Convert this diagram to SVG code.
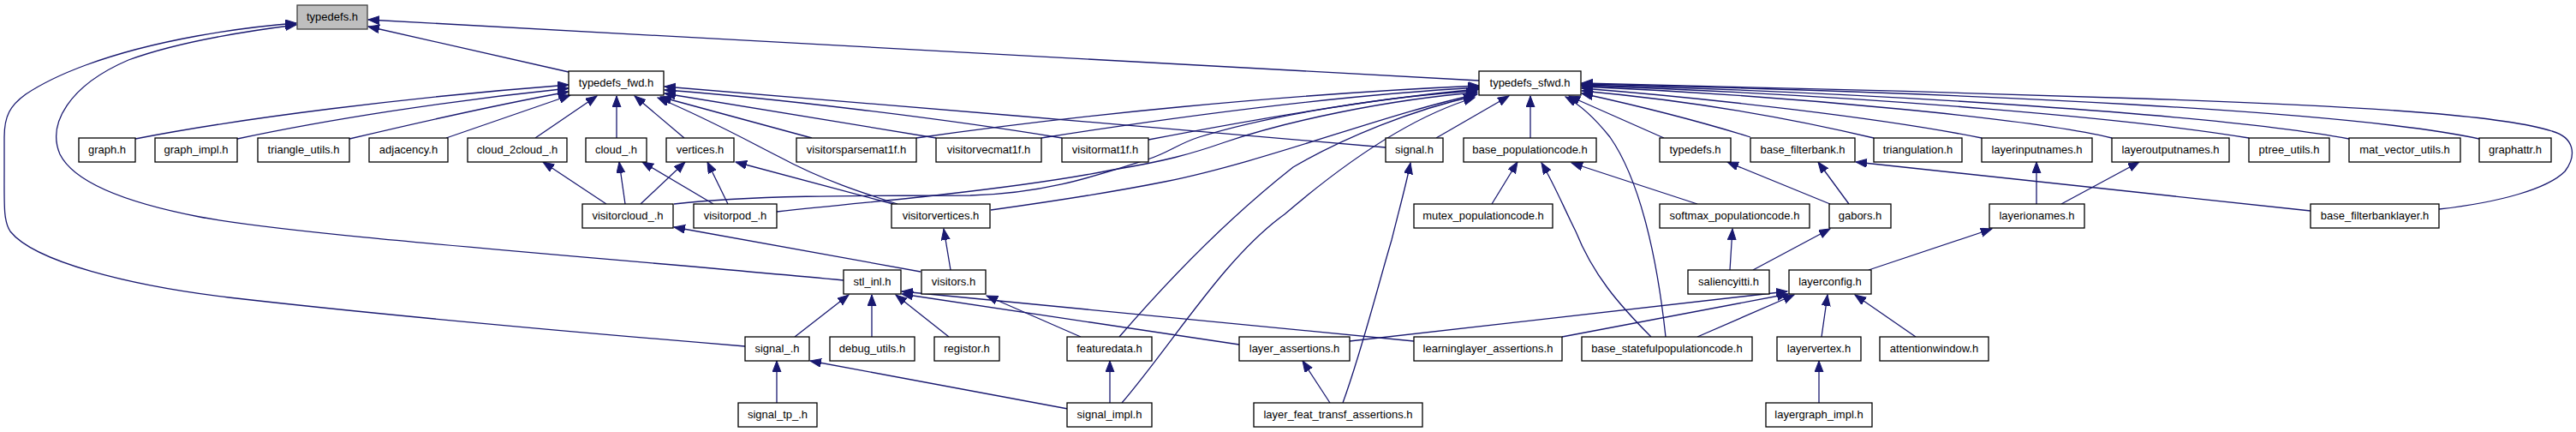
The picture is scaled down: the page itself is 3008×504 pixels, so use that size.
<svg xmlns="http://www.w3.org/2000/svg" width="3008" height="504" viewBox="0 0 3008 504">
<style>
.n rect{fill:#fff;stroke:#000;stroke-width:1.3}
.r rect{fill:#bfbfbf;stroke:#404040;stroke-width:1.3}
text{font-family:"Liberation Sans",Arial,sans-serif;font-size:13px;text-anchor:middle;fill:#000}
#edges path{fill:none;stroke:#191970;stroke-width:1.3;marker-end:url(#a)}
</style>
<defs>
<marker id="a" markerUnits="userSpaceOnUse" markerWidth="14" markerHeight="11" refX="13" refY="5" orient="auto">
<path d="M0,0 L13,5 L0,10 z" fill="#191970" stroke="#191970" stroke-width="1"/>
</marker>
</defs>
<rect width="3008" height="504" fill="#fff"/>
<g id="edges">
<path d="M664,84 L430,31"/>
<path d="M1727,94 L430,23"/>
<path d="M985,327 C700,300 350,275 233,253 C140,235 85,210 70,180 C55,145 80,100 150,70 C210,48 290,36 346,29"/>
<path d="M870,404 C700,390 450,368 267,347 C150,333 40,305 12,270 C4,258 5,240 5,200 L5,160 C5,135 12,123 30,110 C60,90 120,62 230,42 C280,33 320,29 346,27"/>
<path d="M158,162 C280,138 480,113 664,99"/>
<path d="M277,162 C380,140 520,118 664,103"/>
<path d="M408,162 C480,145 570,124 664,107"/>
<path d="M521,161 L666,111"/>
<path d="M625,161 L697,112"/>
<path d="M720,161 L720,112"/>
<path d="M799,161 L741,112"/>
<path d="M948,161 L771,113"/>
<path d="M1093,161 L776,109"/>
<path d="M1240,161 C1100,138 900,114 776,105"/>
<path d="M1618,172 C1400,152 1000,120 776,101"/>
<path d="M1048,238 C1010,226 960,210 910,183 C880,168 830,140 768,114"/>
<path d="M1043,238 L859,189"/>
<path d="M708,238 L634,189"/>
<path d="M730,238 L723,189"/>
<path d="M748,238 L800,189"/>
<path d="M833,238 L750,189"/>
<path d="M850,238 L826,189"/>
<path d="M787,238 C870,228 1000,228 1133,228 C1220,226 1280,205 1340,186 C1365,178 1375,168 1400,160 C1480,135 1620,112 1725,106"/>
<path d="M907,247 C990,238 1060,232 1100,227 C1180,218 1240,210 1300,198 C1360,188 1390,180 1430,166 C1500,142 1620,116 1725,108"/>
<path d="M1157,245 C1250,232 1320,220 1360,212 C1480,188 1620,132 1725,110"/>
<path d="M1070,161 C1250,135 1500,110 1727,100"/>
<path d="M1216,161 C1350,140 1550,112 1727,102"/>
<path d="M1341,163 C1450,142 1600,115 1727,104"/>
<path d="M1307,393 C1370,320 1440,250 1510,195 C1570,160 1650,128 1722,112"/>
<path d="M1310,470 C1370,400 1430,300 1500,250 C1570,190 1650,135 1722,114"/>
<path d="M1677,161 L1762,112"/>
<path d="M1787,161 L1787,112"/>
<path d="M1945,393 C1935,300 1915,210 1880,160 C1860,135 1845,122 1828,113"/>
<path d="M1943,161 L1832,112"/>
<path d="M2044,160 C1980,140 1920,125 1847,109"/>
<path d="M2188,161 C2100,140 1980,118 1847,106"/>
<path d="M2314,161 C2200,138 2000,115 1847,103"/>
<path d="M2466,161 C2380,140 2100,112 1847,101"/>
<path d="M2626,161 C2500,140 2200,112 1847,100"/>
<path d="M2743,162 C2600,135 2200,108 1847,99"/>
<path d="M2895,162 C2750,130 2300,108 1847,98"/>
<path d="M2848,244 C2920,236 2975,220 2995,200 C3010,180 3005,160 2980,153 C2930,137 2800,125 2500,115 C2300,108 2000,100 1847,97"/>
<path d="M1742,238 L1772,189"/>
<path d="M1928,393 C1890,355 1860,320 1840,270 C1825,240 1815,215 1800,190"/>
<path d="M1982,238 L1835,190"/>
<path d="M2020,315 L2023,267"/>
<path d="M2047,315 L2137,267"/>
<path d="M2137,238 L2017,189"/>
<path d="M2159,238 L2123,189"/>
<path d="M2698,246 L2167,189"/>
<path d="M2378,238 L2378,189"/>
<path d="M2407,238 L2498,189"/>
<path d="M2182,315 L2326,267"/>
<path d="M2127,393 L2134,344"/>
<path d="M2237,393 L2166,344"/>
<path d="M2124,470 L2124,421"/>
<path d="M1576,398 L2087,340"/>
<path d="M1824,393 L2088,343"/>
<path d="M1982,393 L2095,344"/>
<path d="M1651,398 L1053,340"/>
<path d="M1447,402 L1053,343"/>
<path d="M1018,393 L1018,344"/>
<path d="M1108,393 L1046,344"/>
<path d="M928,393 L991,344"/>
<path d="M1262,393 L1152,345"/>
<path d="M1110,315 L1102,267"/>
<path d="M1075,317 L787,265"/>
<path d="M1296,470 L1296,421"/>
<path d="M1247,477 L946,421"/>
<path d="M907,470 L907,421"/>
<path d="M1553,470 L1521,421"/>
<path d="M1568,470 C1590,410 1610,330 1625,280 C1635,240 1642,215 1647,190"/>
</g>
<g id="typedefs_h" class="r"><rect x="347" y="6" width="82" height="28"/><text x="388" y="24">typedefs.h</text></g>
<g id="typedefs_fwd_h" class="n"><rect x="664" y="83" width="111" height="28"/><text x="719.5" y="101">typedefs_fwd.h</text></g>
<g id="typedefs_sfwd_h" class="n"><rect x="1727" y="83" width="119" height="28"/><text x="1786.5" y="101">typedefs_sfwd.h</text></g>
<g id="graph_h" class="n"><rect x="92" y="161" width="66" height="28"/><text x="125" y="179">graph.h</text></g>
<g id="graph_impl_h" class="n"><rect x="181" y="161" width="96" height="28"/><text x="229" y="179">graph_impl.h</text></g>
<g id="triangle_utils_h" class="n"><rect x="301" y="161" width="107" height="28"/><text x="354.5" y="179">triangle_utils.h</text></g>
<g id="adjacency_h" class="n"><rect x="431" y="161" width="92" height="28"/><text x="477" y="179">adjacency.h</text></g>
<g id="cloud_2cloud__h" class="n"><rect x="546" y="161" width="116" height="28"/><text x="604" y="179">cloud_2cloud_.h</text></g>
<g id="cloud__h" class="n"><rect x="684" y="161" width="71" height="28"/><text x="719.5" y="179">cloud_.h</text></g>
<g id="vertices_h" class="n"><rect x="778" y="161" width="79" height="28"/><text x="817.5" y="179">vertices.h</text></g>
<g id="visitorsparsemat1f_h" class="n"><rect x="930" y="161" width="140" height="28"/><text x="1000" y="179">visitorsparsemat1f.h</text></g>
<g id="visitorvecmat1f_h" class="n"><rect x="1093" y="161" width="123" height="28"/><text x="1154.5" y="179">visitorvecmat1f.h</text></g>
<g id="visitormat1f_h" class="n"><rect x="1240" y="161" width="101" height="28"/><text x="1290.5" y="179">visitormat1f.h</text></g>
<g id="signal_h" class="n"><rect x="1618" y="161" width="67" height="28"/><text x="1651.5" y="179">signal.h</text></g>
<g id="base_populationcode_h" class="n"><rect x="1709" y="161" width="155" height="28"/><text x="1786.5" y="179">base_populationcode.h</text></g>
<g id="typedefs_h_2" class="n"><rect x="1938" y="161" width="83" height="28"/><text x="1979.5" y="179">typedefs.h</text></g>
<g id="base_filterbank_h" class="n"><rect x="2044" y="161" width="122" height="28"/><text x="2105" y="179">base_filterbank.h</text></g>
<g id="triangulation_h" class="n"><rect x="2188" y="161" width="103" height="28"/><text x="2239.5" y="179">triangulation.h</text></g>
<g id="layerinputnames_h" class="n"><rect x="2314" y="161" width="129" height="28"/><text x="2378.5" y="179">layerinputnames.h</text></g>
<g id="layeroutputnames_h" class="n"><rect x="2466" y="161" width="137" height="28"/><text x="2534.5" y="179">layeroutputnames.h</text></g>
<g id="ptree_utils_h" class="n"><rect x="2626" y="161" width="94" height="28"/><text x="2673" y="179">ptree_utils.h</text></g>
<g id="mat_vector_utils_h" class="n"><rect x="2743" y="161" width="130" height="28"/><text x="2808" y="179">mat_vector_utils.h</text></g>
<g id="graphattr_h" class="n"><rect x="2895" y="161" width="84" height="28"/><text x="2937" y="179">graphattr.h</text></g>
<g id="visitorcloud__h" class="n"><rect x="680" y="238" width="106" height="28"/><text x="733" y="256">visitorcloud_.h</text></g>
<g id="visitorpod__h" class="n"><rect x="810" y="238" width="97" height="28"/><text x="858.5" y="256">visitorpod_.h</text></g>
<g id="visitorvertices_h" class="n"><rect x="1041" y="238" width="115" height="28"/><text x="1098.5" y="256">visitorvertices.h</text></g>
<g id="mutex_populationcode_h" class="n"><rect x="1651" y="238" width="162" height="28"/><text x="1732" y="256">mutex_populationcode.h</text></g>
<g id="softmax_populationcode_h" class="n"><rect x="1938" y="238" width="175" height="28"/><text x="2025.5" y="256">softmax_populationcode.h</text></g>
<g id="gabors_h" class="n"><rect x="2136" y="238" width="72" height="28"/><text x="2172" y="256">gabors.h</text></g>
<g id="layerionames_h" class="n"><rect x="2323" y="238" width="111" height="28"/><text x="2378.5" y="256">layerionames.h</text></g>
<g id="base_filterbanklayer_h" class="n"><rect x="2698" y="238" width="150" height="28"/><text x="2773" y="256">base_filterbanklayer.h</text></g>
<g id="stl_inl_h" class="n"><rect x="985" y="315" width="67" height="28"/><text x="1018.5" y="333">stl_inl.h</text></g>
<g id="visitors_h" class="n"><rect x="1076" y="315" width="75" height="28"/><text x="1113.5" y="333">visitors.h</text></g>
<g id="saliencyitti_h" class="n"><rect x="1971" y="315" width="95" height="28"/><text x="2018.5" y="333">saliencyitti.h</text></g>
<g id="layerconfig_h" class="n"><rect x="2089" y="315" width="96" height="28"/><text x="2137" y="333">layerconfig.h</text></g>
<g id="signal__h" class="n"><rect x="870" y="393" width="75" height="28"/><text x="907.5" y="411">signal_.h</text></g>
<g id="debug_utils_h" class="n"><rect x="969" y="393" width="99" height="28"/><text x="1018.5" y="411">debug_utils.h</text></g>
<g id="registor_h" class="n"><rect x="1091" y="393" width="76" height="28"/><text x="1129" y="411">registor.h</text></g>
<g id="featuredata_h" class="n"><rect x="1246" y="393" width="99" height="28"/><text x="1295.5" y="411">featuredata.h</text></g>
<g id="layer_assertions_h" class="n"><rect x="1447" y="393" width="129" height="28"/><text x="1511.5" y="411">layer_assertions.h</text></g>
<g id="learninglayer_assertions_h" class="n"><rect x="1651" y="393" width="173" height="28"/><text x="1737.5" y="411">learninglayer_assertions.h</text></g>
<g id="base_statefulpopulationcode_h" class="n"><rect x="1847" y="393" width="199" height="28"/><text x="1946.5" y="411">base_statefulpopulationcode.h</text></g>
<g id="layervertex_h" class="n"><rect x="2075" y="393" width="98" height="28"/><text x="2124" y="411">layervertex.h</text></g>
<g id="attentionwindow_h" class="n"><rect x="2195" y="393" width="127" height="28"/><text x="2258.5" y="411">attentionwindow.h</text></g>
<g id="signal_tp__h" class="n"><rect x="862" y="470" width="92" height="28"/><text x="908" y="488">signal_tp_.h</text></g>
<g id="signal_impl_h" class="n"><rect x="1246" y="470" width="99" height="28"/><text x="1295.5" y="488">signal_impl.h</text></g>
<g id="layer_feat_transf_assertions_h" class="n"><rect x="1464" y="470" width="197" height="28"/><text x="1562.5" y="488">layer_feat_transf_assertions.h</text></g>
<g id="layergraph_impl_h" class="n"><rect x="2062" y="470" width="124" height="28"/><text x="2124" y="488">layergraph_impl.h</text></g>
</svg>
